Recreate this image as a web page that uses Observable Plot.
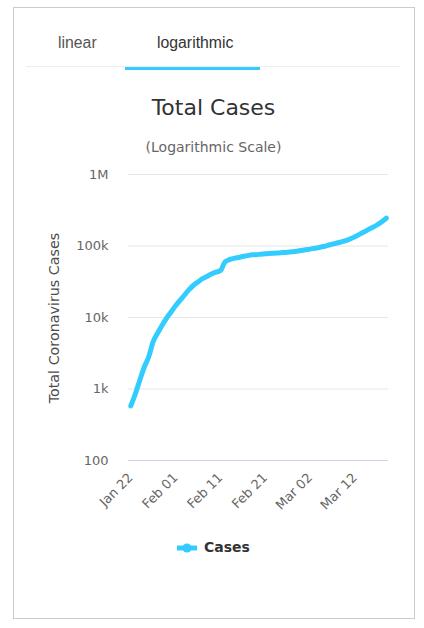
<!DOCTYPE html>
<html>
<head>
<meta charset="utf-8">
<script src="https://cdn.jsdelivr.net/npm/d3@7"></script>
<script src="https://cdn.jsdelivr.net/npm/@observablehq/plot@0.6"></script>
<style>
  html, body { margin: 0; padding: 0; background: #fff; width: 424px; height: 628px; overflow: hidden; }
  .card { position: absolute; left: 13px; top: 7px; width: 400px; height: 610px; border: 1px solid #ccc; box-sizing: content-box; }
  .abs { position: absolute; white-space: nowrap; }
  .tab { font-family: "Liberation Sans", Arial, sans-serif; font-size: 15.8px; }
  .title { font-family: "DejaVu Sans", sans-serif; }
  #chart { position: absolute; left: 14px; top: 160px; }
  #chart svg text { font-family: "DejaVu Sans", sans-serif; }
</style>
</head>
<body>
<div class="card"></div>
<div class="abs tab" style="left:58px; top:34px; color:#555;">linear</div>
<div class="abs tab" style="left:157px; top:34px; color:#333;">logarithmic</div>
<div class="abs" style="left:26px; top:66px; width:374px; height:1px; background:#eee;"></div>
<div class="abs" style="left:125px; top:67px; width:135px; height:3px; background:#33ccff;"></div>
<div class="abs title" style="left:0; width:427px; text-align:center; top:95px; font-size:22px; color:#333;">Total Cases</div>
<div class="abs title" style="left:0; width:427px; text-align:center; top:139px; font-size:14px; color:#666;">(Logarithmic Scale)</div>
<div class="abs title" style="left:54px; top:318px; font-size:14.3px; color:#4d4d4d; transform: translate(-50%,-50%) rotate(-90deg);">Total Coronavirus Cases</div>
<div id="chart"></div>
<div class="abs" style="left:177px; top:540px; width:80px; height:18px;">
  <svg width="22" height="16" style="position:absolute; left:0; top:0;">
    <line x1="0" y1="8" x2="20" y2="8" stroke="#33ccff" stroke-width="5"></line>
    <circle cx="10" cy="8" r="4.5" fill="#33ccff"></circle>
  </svg>
  <span class="title" style="position:absolute; left:27px; top:-1px; font-size:14px; font-weight:bold; color:#333;">Cases</span>
</div>
<script>
const startDate = "2020-01-22";
const cases = [580, 845, 1317, 2015, 2800, 4581, 6058, 7813, 9823, 11950,
  14553, 17391, 20630, 24545, 28266, 31439, 34876, 37552, 40553, 43099,
  45134, 59287, 64438, 67100, 69197, 71329, 73332, 75184, 75700, 76677,
  77673, 78651, 79205, 80087, 80828, 81820, 83112, 84615, 86604, 88585,
  90443, 93016, 95314, 98425, 102050, 106099, 109991, 114381, 118948, 126214,
  134576, 145483, 156653, 169593, 182490, 198238, 218822, 244933];
const yTickValues = [100, 1000, 10000, 100000, 1000000];
const yTickLabels = ["100", "1k", "10k", "100k", "1M"];
const xTickLabels = ["Jan 22", "Feb 01", "Feb 11", "Feb 21", "Mar 02", "Mar 12"];

const t0 = new Date(startDate + "T00:00:00Z");
const DAY = 86400000;
const data = cases.map((v, i) => ({date: new Date(t0.getTime() + i * DAY), value: v}));
const fmt = d3.utcFormat("%b %d");
const xTicks = data.map(d => d.date).filter(d => xTickLabels.includes(fmt(d)));

const chart = Plot.plot({
  width: 390,
  height: 360,
  marginLeft: 114,
  marginRight: 16,
  marginTop: 14,
  marginBottom: 60,
  style: {background: "transparent", fontSize: "13px"},
  x: {type: "utc", domain: [new Date(t0.getTime() - DAY / 2), new Date(t0.getTime() + (cases.length - 0.5) * DAY)]},
  y: {type: "log", domain: [100, 1000000]},
  marks: [
    Plot.gridY(yTickValues.slice(1), {stroke: "#e6e6e6", strokeOpacity: 1}),
    Plot.ruleY([100], {stroke: "#ccd6eb"}),
    Plot.axisY({ticks: yTickValues, tickSize: 0, tickPadding: 20, label: null,
      tickFormat: d => yTickLabels[yTickValues.indexOf(d)], fill: "#666"}),
    Plot.axisX({ticks: xTicks, tickSize: 0, tickPadding: 15, tickRotate: -45, label: null,
      tickFormat: d => xTickLabels[xTickLabels.indexOf(fmt(d))], fill: "#666", fontSize: 13}),
    Plot.line(data, {x: "date", y: "value", stroke: "#33ccff", strokeWidth: 5,
      curve: "monotone-x", strokeLinecap: "round", strokeLinejoin: "round"})
  ]
});
document.getElementById("chart").appendChild(chart);
</script>
</body>
</html>
